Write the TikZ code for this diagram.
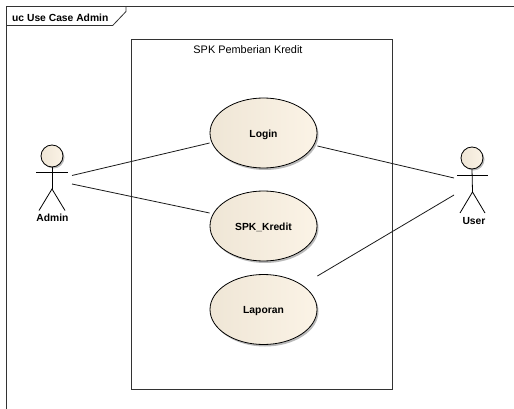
\documentclass[tikz,border=0pt]{standalone}
\usepackage{fontspec}
\setmainfont{Liberation Sans}
\usetikzlibrary{shapes.geometric,shadows}
\definecolor{ucfill}{HTML}{FBF3E6}
\definecolor{ucleft}{HTML}{EFE6D6}
\definecolor{edgecol}{HTML}{1A1A1A}
\tikzset{
  x=1pt,y=-1pt,
  usecase/.style={ellipse,draw=black,line width=0.8pt,minimum width=107pt,minimum height=70pt,inner sep=0pt,
    left color=ucleft,right color=ucfill,text height=9.2pt,text depth=1pt,
    drop shadow={shadow xshift=1.5pt,shadow yshift=-2pt,fill=black!45,opacity=0.6},
    font=\fontsize{10.3}{12}\selectfont\bfseries},
  head/.style={circle,draw=black,line width=0.8pt,minimum size=22pt,inner sep=0pt,
    left color=ucleft,right color=ucfill,
    drop shadow={shadow xshift=1.5pt,shadow yshift=-1.5pt,fill=black!45,opacity=0.6}},
  limb/.style={draw=black,line width=0.8pt},
  assoc/.style={draw=edgecol,line width=0.8pt},
  frameline/.style={draw=black!80,line width=1pt},
  lbl/.style={font=\fontsize{10.3}{12}\selectfont\bfseries,inner sep=0pt},
}
\begin{document}
\begin{tikzpicture}
\useasboundingbox (0,0) rectangle (514,409);
\fill[white] (0,0) rectangle (514,409);
% frame
\draw[frameline] (514,6.5) -- (6.5,6.5) -- (6.5,409);
\draw[frameline,line width=0.8pt] (6.5,25.5) -- (112.7,25.5) -- (126,11.5) -- (126,6.5);
\node[lbl,anchor=west] (title) at (12,17.5) {uc Use Case Admin};
% system
\node[draw=black!80,line width=1pt,minimum width=260.5pt,minimum height=350.5pt,inner sep=0pt] (sys) at (262,214.5) {};
\node[font=\fontsize{10.9}{12}\selectfont,inner sep=0pt] (systitle) at (248,50) {SPK Pemberian Kredit};
% use cases
\node[usecase] (login) at (263.5,133) {Login};
\node[usecase] (kredit) at (263.5,226) {SPK\_Kredit};
\node[usecase] (laporan) at (263.5,309.5) {Laporan};
% Admin
\node[head] (ahead) at (52,156) {};
\coordinate (aarmL) at (36,172);
\coordinate (aarmR) at (68,172);
\coordinate (ahip) at (52,189);
\coordinate (alegL) at (39,210.5);
\coordinate (alegR) at (65,210.5);
\draw[limb] (aarmL) -- (aarmR);
\draw[limb] (ahead.south) -- (ahip);
\draw[limb] (alegL) -- (ahip) -- (alegR);
\node[lbl] (admin) at (52.5,217.5) {Admin};
% User
\node[head] (uhead) at (472,158) {};
\coordinate (uarmL) at (457,175);
\coordinate (uarmR) at (488,175);
\coordinate (uhip) at (472.5,192);
\coordinate (ulegL) at (460,213);
\coordinate (ulegR) at (485,213);
\draw[limb] (uarmL) -- (uarmR);
\draw[limb] (uhead.south) -- (uhip);
\draw[limb] (ulegL) -- (uhip) -- (ulegR);
\node[lbl] (user) at (474,221) {User};
% connectors
\coordinate (a1) at (72,175.5);
\coordinate (a2) at (72,184);
\coordinate (u1) at (454,178);
\coordinate (u2) at (454,195);
\draw[assoc] (a1) -- (login.west |- 0,143);
\draw[assoc] (a2) -- (kredit.west |- 0,213);
\draw[assoc] (login.east |- 0,146) -- (u1);
\draw[assoc] (laporan.east |- 0,276) -- (u2);
\end{tikzpicture}
\end{document}
